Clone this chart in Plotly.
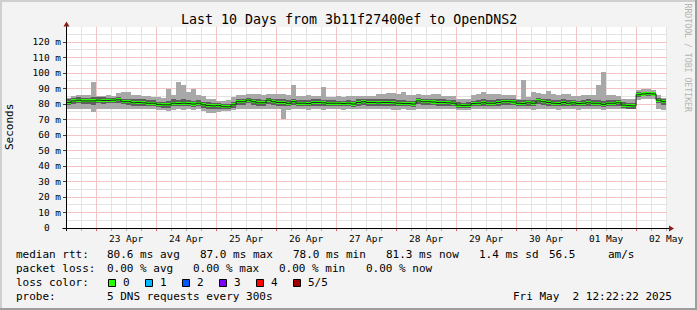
import plotly.graph_objects as go
import pandas as pd
import numpy as np
import math

# ---------------- data (ms), 2-hour consolidated steps starting 2025-04-22 12:00 ----------------
STEP_START = "2025-04-22 12:00:00"
MED = [81.0, 82.0, 82.5, 82.0, 82.0, 82.0, 82.5, 82.3, 82.3, 82.5,
       82.7, 81.5, 81.5, 80.8, 81.0, 80.8, 80.5, 80.5, 79.8, 79.5,
       79.5, 80.5, 80.3, 80.5, 80.3, 80.0, 80.5, 79.5, 79.0, 78.8,
       79.0, 78.3, 78.2, 79.5, 81.5, 81.5, 82.5, 81.5, 80.8, 80.8,
       82.5, 81.5, 81.0, 81.0, 80.5, 81.5, 80.5, 80.5, 80.3, 81.0,
       81.0, 80.8, 80.5, 80.5, 80.5, 80.3, 80.5, 80.0, 81.0, 81.5,
       81.0, 81.0, 80.8, 81.0, 81.0, 80.8, 80.5, 80.3, 80.3, 80.0,
       82.0, 81.5, 81.5, 81.3, 81.0, 81.0, 80.8, 80.5, 79.3, 79.0,
       79.2, 80.3, 80.5, 80.8, 80.5, 80.5, 81.0, 81.5, 81.5, 81.3,
       80.5, 80.3, 80.8, 80.5, 82.0, 81.5, 81.0, 80.5, 80.3, 81.0,
       80.5, 80.8, 80.3, 80.5, 80.8, 80.5, 80.5, 79.8, 80.5, 80.5,
       80.8, 79.3, 79.0, 78.8, 86.0, 86.5, 86.7, 86.5, 82.5, 81.5]
HI = [84.0, 85.5, 86.0, 86.0, 86.0, 94.0, 85.5, 85.5, 86.0, 85.5,
      87.0, 87.5, 88.0, 86.0, 86.0, 85.5, 85.5, 84.5, 84.5, 84.0,
      90.0, 86.0, 94.0, 92.5, 88.0, 89.5, 86.0, 85.0, 83.0, 83.0,
      82.0, 82.0, 82.5, 84.5, 86.0, 86.0, 86.5, 86.5, 86.5, 86.0,
      86.5, 86.5, 86.5, 86.5, 86.0, 92.0, 85.5, 85.5, 86.0, 85.5,
      85.0, 91.0, 84.5, 84.5, 85.0, 84.5, 85.0, 85.0, 85.5, 85.0,
      85.0, 85.5, 86.5, 86.5, 87.0, 87.0, 86.5, 87.5, 86.0, 86.0,
      86.5, 86.0, 86.0, 86.5, 86.5, 85.5, 85.5, 85.0, 83.5, 83.0,
      83.5, 86.0, 86.5, 88.0, 86.5, 86.5, 86.5, 86.0, 86.0, 86.0,
      83.5, 95.5, 84.5, 88.0, 87.0, 86.5, 88.5, 86.5, 86.0, 86.5,
      86.5, 85.5, 85.5, 86.0, 86.0, 86.0, 92.0, 100.5, 86.0, 86.0,
      85.5, 83.0, 83.0, 83.0, 89.0, 89.5, 89.5, 89.0, 86.0, 84.0]
LO = [77.0, 76.5, 76.5, 77.0, 76.5, 75.0, 76.5, 77.0, 76.5, 76.5,
      77.0, 76.5, 77.0, 76.5, 76.5, 77.0, 76.5, 76.5, 76.0, 76.0,
      75.5, 76.0, 76.5, 76.0, 76.5, 76.0, 76.5, 75.5, 74.5, 74.5,
      75.0, 75.5, 75.5, 76.0, 76.5, 77.0, 76.5, 76.5, 76.5, 76.5,
      77.0, 76.5, 76.5, 70.5, 76.0, 76.5, 76.5, 76.5, 76.0, 76.5,
      76.5, 76.0, 76.5, 76.5, 76.5, 76.0, 76.5, 76.5, 76.5, 76.5,
      76.5, 76.5, 76.5, 76.5, 76.5, 76.0, 76.0, 76.5, 76.0, 76.0,
      76.5, 77.0, 76.5, 76.5, 76.5, 76.5, 76.5, 76.5, 76.0, 76.0,
      76.0, 76.5, 76.5, 76.5, 76.5, 76.5, 76.5, 77.0, 76.5, 76.5,
      76.5, 76.5, 76.5, 76.0, 76.5, 76.5, 76.5, 76.5, 76.0, 76.5,
      76.5, 76.5, 76.0, 76.5, 76.5, 76.5, 76.5, 76.0, 76.5, 76.5,
      76.5, 76.5, 76.5, 76.5, 82.5, 83.5, 83.5, 83.0, 77.0, 76.0]
IHI = [83.0, 84.0, 84.5, 84.0, 84.0, 84.5, 84.5, 84.5, 84.0, 84.0,
       84.5, 83.5, 83.5, 83.0, 83.0, 83.0, 82.5, 82.5, 81.5, 81.5,
       82.0, 83.0, 82.5, 83.0, 82.5, 82.0, 82.5, 81.5, 81.0, 80.5,
       80.5, 80.0, 80.0, 81.5, 83.5, 83.5, 84.0, 83.5, 83.0, 82.5,
       84.0, 83.5, 83.0, 83.0, 82.5, 83.0, 82.5, 82.5, 82.5, 83.0,
       83.0, 82.5, 82.5, 82.5, 82.0, 82.0, 82.5, 82.0, 83.0, 83.5,
       83.0, 83.0, 83.0, 83.0, 83.5, 83.0, 82.5, 82.5, 82.0, 82.0,
       84.0, 83.5, 83.5, 83.0, 83.0, 83.0, 82.5, 82.5, 81.0, 80.5,
       81.0, 82.0, 82.5, 83.0, 82.5, 82.5, 83.0, 83.5, 83.5, 83.0,
       82.5, 82.5, 82.5, 82.5, 84.0, 83.5, 83.0, 82.5, 82.5, 83.0,
       82.5, 82.5, 82.0, 82.5, 83.0, 82.5, 82.5, 82.0, 82.5, 82.5,
       82.5, 81.0, 80.5, 80.5, 87.5, 88.0, 88.0, 87.5, 84.0, 83.0]
ILO = [79.5, 80.0, 80.5, 80.0, 80.0, 79.5, 80.5, 80.0, 80.5, 80.5,
       80.5, 80.0, 79.5, 79.0, 79.0, 79.0, 78.5, 78.5, 78.0, 77.5,
       77.5, 78.5, 78.5, 78.5, 78.5, 78.0, 78.5, 77.5, 77.0, 76.5,
       77.0, 76.5, 76.5, 77.5, 79.5, 79.5, 80.5, 79.5, 79.0, 79.0,
       80.0, 79.5, 79.0, 79.0, 78.5, 79.5, 78.5, 78.5, 78.5, 79.0,
       79.0, 79.0, 78.5, 78.5, 78.5, 78.5, 78.5, 78.0, 79.0, 79.5,
       79.0, 79.0, 79.0, 79.0, 79.0, 79.0, 78.5, 78.5, 78.5, 78.0,
       80.0, 79.5, 79.5, 79.5, 79.0, 79.0, 79.0, 78.5, 77.5, 77.5,
       77.5, 78.5, 78.5, 79.0, 78.5, 78.5, 79.0, 79.5, 79.5, 79.5,
       78.5, 78.5, 79.0, 78.5, 80.0, 79.5, 79.0, 78.5, 78.5, 79.0,
       78.5, 79.0, 78.5, 78.5, 79.0, 78.5, 78.5, 78.0, 78.5, 78.5,
       79.0, 77.5, 77.0, 77.0, 84.5, 85.0, 85.0, 85.0, 80.5, 79.5]

Y_TICKS = [0, 10, 20, 30, 40, 50, 60, 70, 80, 90, 100, 110, 120]
Y_TICKTEXT = ["0\u00a0\u00a0", "10 m", "20 m", "30 m", "40 m", "50 m", "60 m",
              "70 m", "80 m", "90 m", "100 m", "110 m", "120 m"]
Y_MAX = 129.7
X_START = "2025-04-22 12:22:22"
X_END = "2025-05-02 12:22:22"

TITLE = "Last 10 Days from 3b11f27400ef to OpenDNS2"
YLABEL = "Seconds"
LEG_RTT = ["median rtt:", "80.6 ms avg", "87.0 ms max", "78.0 ms min", "81.3 ms now", "1.4 ms sd", "56.5", "am/s"]
LEG_LOSS = ["packet loss:", "0.00 % avg", "0.00 % max", "0.00 % min", "0.00 % now"]
LOSS_LABELS = ["0", "1", "2", "3", "4", "5/5"]
LOSS_COLORS = ["#26ff00", "#00b8ff", "#0059ff", "#7e00ff", "#ff0000", "#a00000"]
PROBE = ["probe:", "5 DNS requests every 300s"]
STAMP = "Fri May\u00a0\u00a02 12:22:22 2025"
WATERMARK = "RRDTOOL / TOBI OETIKER"

# ---------------- layout helpers ----------------
W, H = 697, 310
L, R, T, B = 67, 30, 27, 82
PW, PH = W - L - R, H - T - B
FONT = "DejaVu Sans Mono"


def px(x):
    return (x - L) / PW


def py(y):
    return (H - B - y) / PH


n = len(MED)
step = pd.Timedelta(hours=2)
starts = pd.date_range(STEP_START, periods=n, freq="2h")
centers = starts + pd.Timedelta(hours=1)
MED_a, HI_a, LO_a, IHI_a, ILO_a = map(np.array, (MED, HI, LO, IHI, ILO))

fig = go.Figure()
wms = 2 * 3600 * 1000
fig.add_bar(x=centers, base=LO_a, y=HI_a - LO_a, width=wms,
            marker=dict(color="#a8a8a8", line=dict(width=0)), hoverinfo="skip")
fig.add_bar(x=centers, base=ILO_a, y=IHI_a - ILO_a, width=wms,
            marker=dict(color="#5e5e5e", line=dict(width=0)), hoverinfo="skip")
fig.add_scatter(x=list(starts) + [starts[-1] + step], y=MED + [MED[-1]],
                mode="lines", line=dict(shape="hv", width=1, color="#202020"), hoverinfo="skip")
fig.add_bar(x=centers, base=MED_a - 1.0, y=np.full(n, 2.0), width=wms,
            marker=dict(color=LOSS_COLORS[0], line=dict(width=0)), hoverinfo="skip")

MGRID = "#f5c4c4"
GRID = "#e3e3e3"

fig.update_layout(
    width=W, height=H, margin=dict(l=L, r=R, t=T, b=B, pad=0),
    paper_bgcolor="#f3f3f3", plot_bgcolor="#ffffff",
    showlegend=False, barmode="overlay", bargap=0,
    xaxis=dict(type="date", range=[X_START, X_END], showline=False, zeroline=False,
               showgrid=False,
               tick0="2025-04-23 00:00:00", dtick=86400000, tickformat="%d %b",
               ticklabelmode="period", ticks="outside", ticklen=2, tickcolor="#e06060",
               tickfont=dict(family=FONT, size=9.5, color="#000000"),
               minor=dict(dtick=6 * 3600000, showgrid=False,
                          ticks="outside", ticklen=2, tickcolor="#b0b0b0"),
               fixedrange=True),
    yaxis=dict(range=[0, Y_MAX], showline=False, zeroline=False,
               tickmode="array", tickvals=Y_TICKS, ticktext=Y_TICKTEXT,
               showgrid=False,
               ticks="outside", ticklen=3, tickcolor="#404040",
               tickfont=dict(family=FONT, size=9.5, color="#000000"),
               fixedrange=True),
)


def ann(x, y, text, size=11, color="#000000", xanchor="left", angle=0):
    fig.add_annotation(x=px(x), y=py(y), xref="paper", yref="paper", text=text,
                       showarrow=False, xanchor=xanchor, yanchor="middle",
                       borderpad=0, borderwidth=0, textangle=angle,
                       font=dict(family=FONT, size=size, color=color))


def rect(x0, y0, x1, y1, fill, line=None):
    fig.add_shape(type="rect", xref="paper", yref="paper",
                  x0=px(x0), x1=px(x1), y0=py(y1), y1=py(y0),
                  fillcolor=fill, line=dict(width=1 if line else 0, color=line or fill),
                  layer="above")


def seg(x0, y0, x1, y1, color, width=1, dash="solid", layer="above"):
    fig.add_shape(type="line", xref="paper", yref="paper",
                  x0=px(x0), x1=px(x1), y0=py(y0), y1=py(y1),
                  line=dict(color=color, width=width, dash=dash), layer=layer)


def tri(pts, color):
    path = "M " + " L ".join(f"{px(a)},{py(b)}" for a, b in pts) + " Z"
    fig.add_shape(type="path", xref="paper", yref="paper", path=path,
                  fillcolor=color, line=dict(width=0), layer="above")


# ---------------- grid (pixel aligned; minor first, major on top) ----------------
t0 = pd.Timestamp(X_START)
span = pd.Timestamp(X_END) - t0
bottom = H - B
grid_times = pd.date_range("2025-04-22 18:00:00", "2025-05-02 12:00:00", freq="6h")
vmin, vmaj = [], []
for t in grid_times:
    xx = math.floor(L + (t - t0) / span * PW) + 0.5
    (vmaj if t.hour == 0 else vmin).append(xx)
hmin, hmaj = [], []
for v in range(5, 130, 5):
    yy = bottom - v * PH / Y_MAX
    if yy > T:
        (hmaj if v % 10 == 0 else hmin).append(math.floor(yy) + 0.5)
for xx in vmin:
    seg(xx, T, xx, bottom, GRID, layer="below")
for yy in hmin:
    seg(L, yy, L + PW, yy, GRID, layer="below")
for xx in vmaj:
    seg(xx, T, xx, bottom, MGRID, layer="below")
for yy in hmaj:
    seg(L, yy, L + PW, yy, MGRID, layer="below")

# frame
rect(0, 0, W, 2, "#cfcfcf")
rect(0, 0, 2, H, "#cfcfcf")
rect(0, H - 2, W, H, "#9e9e9e")
rect(W - 2, 0, W, H, "#9e9e9e")

# axes with arrows
seg(66.5, 231, 66.5, 26, "#000000")
seg(62.5, 228.5, 669, 228.5, "#000000")
tri([(63.5, 26.5), (69.5, 26.5), (66.5, 21.5)], "#8b1a1a")
tri([(669, 225.5), (669, 231.5), (674, 228.5)], "#8b1a1a")

# texts
ann(348.5, 19.3, TITLE, size=13.3, xanchor="center")
ann(10, 127, YLABEL, size=11, xanchor="center", angle=-90)
ann(687.5, 58, WATERMARK, size=8.2, color="#b4b4b4", xanchor="center", angle=90)

rtt_x = [16, 107.3, 200, 292.7, 386, 479, 549.3, 607.7]
for x, t in zip(rtt_x, LEG_RTT):
    ann(x, 254.3, t)
loss_x = [16, 107.3, 193.3, 279.3, 366]
for x, t in zip(loss_x, LEG_LOSS):
    ann(x, 268.3, t)
ann(16, 282.3, "loss color:")
box_x = [108.5, 145.5, 182.5, 219.5, 256.5, 293.5]
lab_x = [122.7, 160, 197.3, 234.3, 271, 308.3]
for bx, lx, lab, col in zip(box_x, lab_x, LOSS_LABELS, LOSS_COLORS):
    rect(bx, 279.5, bx + 7, 286.5, col, line="#000000")
    ann(lx, 282.3, lab)
ann(16, 296, PROBE[0])
ann(107.3, 296, PROBE[1])
ann(513.3, 296, STAMP)

fig.write_html("out.html", config={"displayModeBar": False, "staticPlot": True})
